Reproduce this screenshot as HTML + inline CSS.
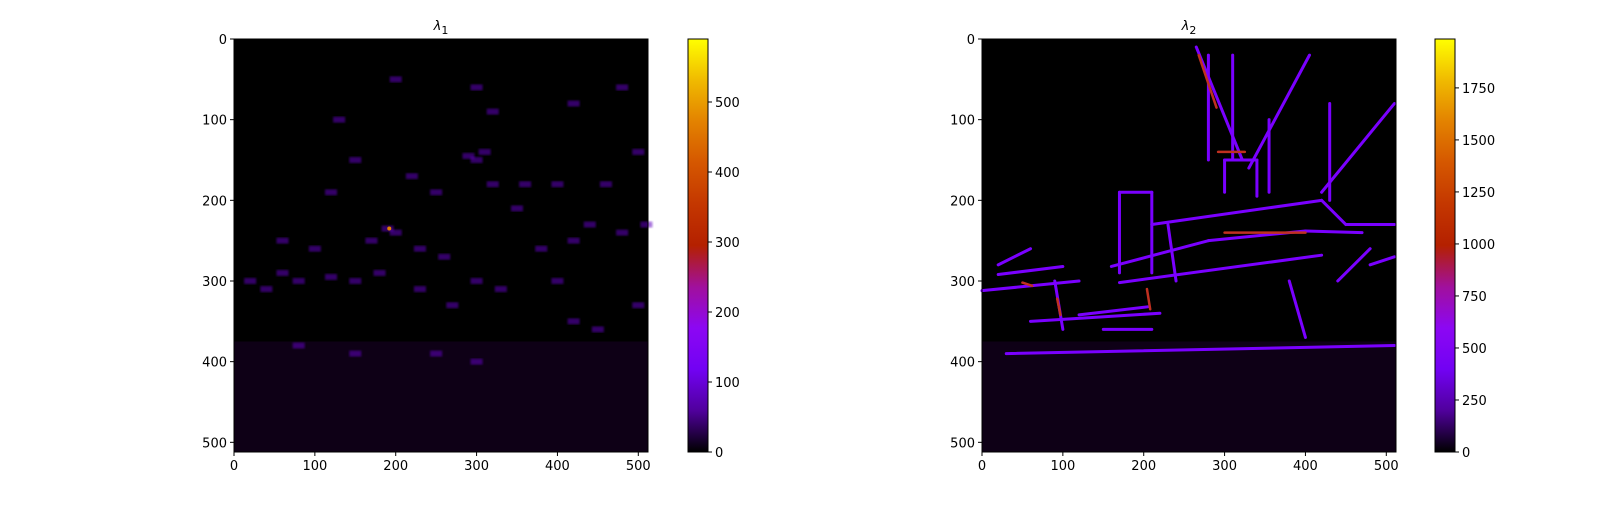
<!DOCTYPE html>
<html><head><meta charset="utf-8"><style>
body{margin:0;background:#fff;font-family:"Liberation Sans","DejaVu Sans",sans-serif;}
svg text{font-family:"DejaVu Sans","Liberation Sans",sans-serif;font-size:13px;fill:#000;}
</style></head><body>
<svg id="fig" width="1600" height="500" xmlns="http://www.w3.org/2000/svg">
<defs>
<linearGradient id="gnu" x1="0" y1="1" x2="0" y2="0">
<stop offset="0" stop-color="#000000"/><stop offset="0.1" stop-color="#50009c"/>
<stop offset="0.2" stop-color="#7202f3"/><stop offset="0.3" stop-color="#8c07f3"/>
<stop offset="0.4" stop-color="#a1109c"/><stop offset="0.5" stop-color="#b42000"/>
<stop offset="0.6" stop-color="#c43700"/><stop offset="0.7" stop-color="#d55700"/>
<stop offset="0.8" stop-color="#e38200"/><stop offset="0.9" stop-color="#f0ba00"/>
<stop offset="1" stop-color="#ffff00"/>
</linearGradient>
<filter id="glow"><feGaussianBlur stdDeviation="1"/></filter>
</defs>
</svg>
<script>
// data
const xTicks=[0,100,200,300,400,500];
const yTicks=[0,100,200,300,400,500];
const cb1Ticks=[0,100,200,300,400,500]; const cb1Max=590;
const cb2Ticks=[0,250,500,750,1000,1250,1500,1750]; const cb2Max=1985;
// right panel edge segments [x1,y1,x2,y2] in image coordinates
const edges2=[[265,10,322,150],[330,160,405,20],[420,190,510,80],
[160,282,280,250],[280,250,400,238],[400,238,470,240],[170,302,420,268],[120,342,205,332],
[30,390,510,380],[170,190,210,190],[170,190,170,290],[210,190,210,290],
[300,150,340,150],[300,150,300,190],[340,150,340,195],[0,312,120,300],[20,292,100,282],
[280,20,280,150],[310,20,310,150],[355,100,355,190],[430,80,430,200],[210,230,420,200],
[420,200,450,230],[450,230,510,230],[60,350,220,340],[230,230,240,300],[380,300,400,370],
[440,300,480,260],[90,300,100,360],[150,360,210,360],[20,280,60,260],[480,280,510,270]];
const hot2=[[268,20,290,85],[292,140,325,140],[93,322,97,342],[50,302,62,306],[204,310,208,335],[300,240,400,240]];
// left panel sparse response points [x,y]
const dots1=[[190,235],[200,240],[170,250],[230,260],[260,270],[290,145],[300,150],[310,140],[320,180],
[350,210],[380,260],[420,250],[440,230],[480,240],[500,140],[510,230],[20,300],[40,310],[60,290],[80,300],
[120,295],[150,300],[180,290],[230,310],[270,330],[300,300],[330,310],[400,300],[420,350],[360,180],
[250,190],[220,170],[150,150],[120,190],[80,380],[150,390],[250,390],[300,400],[450,360],[500,330],
[60,250],[100,260],[400,180],[460,180],[300,60],[320,90],[420,80],[480,60],[200,50],[130,100]];
const NS='http://www.w3.org/2000/svg';
const svg=document.getElementById('fig');
function el(t,a,p){const e=document.createElementNS(NS,t);for(const k in a)e.setAttribute(k,a[k]);(p||svg).appendChild(e);return e;}
function panel(ax,title,cbx,cbTicks,cbMax,draw){
 const W=414,H=413,ay=39;
 const sx=v=>ax+v/512*W, sy=v=>ay+v/512*H;
 const g=el('g',{});
 
 
 const bg=el('rect',{x:ax,y:ay,width:W,height:H,fill:'#000'},g);
 
 
 el('rect',{x:ax,y:sy(375),width:W,height:H-(sy(375)-ay),fill:'#0e0016'},g);
 draw(g,sx,sy);
 el('rect',{x:ax,y:ay,width:W,height:H,fill:'none',stroke:'#000','stroke-width':1},g);
 xTicks.forEach(v=>{el('line',{x1:sx(v),x2:sx(v),y1:ay+H,y2:ay+H+4,stroke:'#000'},g);
  const t=el('text',{x:sx(v),y:ay+H+18,'text-anchor':'middle'},g);t.textContent=v;
  });
 yTicks.forEach(v=>{el('line',{x1:ax-4,x2:ax,y1:sy(v),y2:sy(v),stroke:'#000'},g);
  const t=el('text',{x:ax-7,y:sy(v)+5,'text-anchor':'end'},g);t.textContent=v;
  });
 const tt=el('text',{x:ax+W/2,y:30,'text-anchor':'middle','font-size':'17','font-style':'italic'},g);
 tt.innerHTML='λ<tspan font-size="11" dy="4" font-style="normal">'+title.slice(-1)+'</tspan>';
 
 const cb=el('rect',{x:cbx,y:ay,width:20,height:H,fill:'url(#gnu)',stroke:'#000'},g);
 
 cbTicks.forEach(v=>{const y=ay+H-v/cbMax*H;el('line',{x1:cbx+20,x2:cbx+24,y1:y,y2:y,stroke:'#000'},g);
  const t=el('text',{x:cbx+27,y:y+5},g);t.textContent=v;
  });
}
panel(234,'lambda-1',688,cb1Ticks,cb1Max,(g,sx,sy)=>{
 dots1.forEach(d=>{const c=el('rect',{x:sx(d[0])-6,y:sy(d[1])-3,width:12,height:6,fill:'#6000c0',opacity:0.55,filter:'url(#glow)'},g);
  });
 el('circle',{cx:sx(192),cy:sy(235),r:2,fill:'#e08000'},g);
});
panel(982,'lambda-2',1435,cb2Ticks,cb2Max,(g,sx,sy)=>{
 edges2.forEach(e=>{const l=el('line',{x1:sx(e[0]),y1:sy(e[1]),x2:sx(e[2]),y2:sy(e[3]),stroke:'#7a00ff','stroke-width':3,'stroke-linecap':'round'},g);
  });
 hot2.forEach(e=>{const l=el('line',{x1:sx(e[0]),y1:sy(e[1]),x2:sx(e[2]),y2:sy(e[3]),stroke:'#c03020','stroke-width':2.5,'stroke-linecap':'round'},g);
  });
});
</script>
</body></html>
